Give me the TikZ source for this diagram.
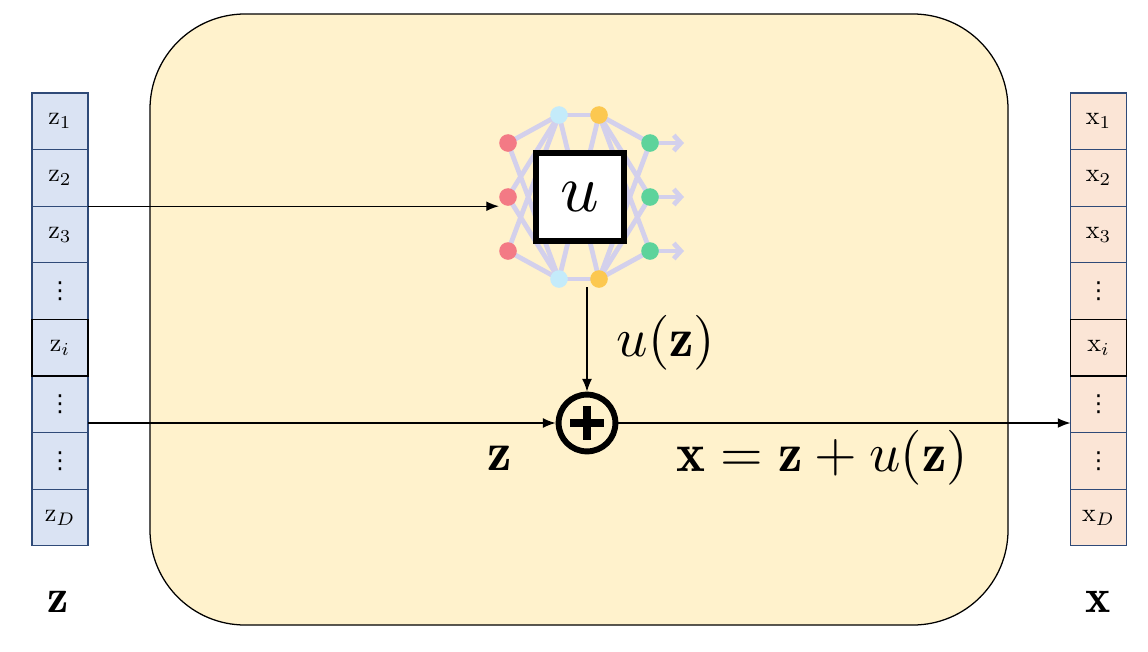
\documentclass[tikz,border=0pt]{standalone}
\usepackage{graphicx}
\usepackage{fontspec}
\newfontfamily\symbolfont{DejaVu Sans}
\usetikzlibrary{calc}
\usetikzlibrary{positioning}
\usetikzlibrary{arrows.meta}

\definecolor{zfill}{HTML}{DAE3F3}
\definecolor{xfill}{HTML}{FBE5D6}
\definecolor{cellblue}{HTML}{2F4A78}
\definecolor{flowfill}{HTML}{FFF2CC}
\definecolor{netline}{HTML}{D3D0EC}
\definecolor{nred}{HTML}{F37A85}
\definecolor{nblue}{HTML}{C4EBFA}
\definecolor{norange}{HTML}{FCC850}
\definecolor{ngreen}{HTML}{5DD39B}

\newcommand{\celldots}{\hbox{\symbolfont\fontsize{9}{10}\selectfont ⋮}}

\begin{document}
\begin{tikzpicture}[x=0.025cm,y=-0.025cm,
    cell/.style={draw=cellblue, line width=0.8pt, minimum width=1.4cm, minimum height=1.415cm,
      inner sep=0pt, outer sep=0pt},
    neuron/.style={circle, minimum size=0.44cm, inner sep=0pt},
    link/.style={draw=netline, line width=3.4pt},
    conn/.style={line width=1pt, -{Latex[length=9pt,width=7pt]}},
    bigmath/.style={scale=3.9, inner sep=0pt}]
  \useasboundingbox (0,0) rectangle (1148,651);

  % flow block
  \draw[fill=flowfill, line width=0.9pt, rounded corners=2.375cm] (150,14) rectangle (1008,625);

  % input and output vectors
  \foreach \lbl [count=\k] in {\mathrm{z}_1,\mathrm{z}_2,\mathrm{z}_3,\celldots,\mathrm{z}_i,\celldots,\celldots,\mathrm{z}_D}
    \node[cell, fill=zfill] (z\k) at (60,64.7+56.6*\k) {\scalebox{1.85}{$\lbl$}};
  \foreach \lbl [count=\k] in {\mathrm{x}_1,\mathrm{x}_2,\mathrm{x}_3,\celldots,\mathrm{x}_i,\celldots,\celldots,\mathrm{x}_D}
    \node[cell, fill=xfill] (x\k) at (1098.5,64.7+56.6*\k) {\scalebox{1.85}{$\lbl$}};
  \draw[line width=0.8pt] (z5.south west) rectangle (z5.north east);
  \draw[line width=0.8pt] (x5.south west) rectangle (x5.north east);

  \node[bigmath, scale=0.87] (zname) at (58,602) {$\mathbf{z}$};
  \node[bigmath, scale=0.87] (xname) at (1098,602) {$\mathbf{x}$};

  % network u
  \foreach \k/\y in {1/143,2/197,3/251} {
    \coordinate (in\k) at (508,\y);
    \coordinate (out\k) at (650,\y);
  }
  \foreach \k/\y in {1/115,2/279} {
    \coordinate (ha\k) at (559,\y);
    \coordinate (hb\k) at (599,\y);
  }
  \foreach \i in {1,2,3}
    \foreach \j in {1,2} {
      \draw[link] (in\i) -- (ha\j);
      \draw[link] (hb\j) -- (out\i);
    }
  \foreach \i in {1,2}
    \foreach \j in {1,2}
      \draw[link] (ha\i) -- (hb\j);
  \foreach \k in {1,2,3}
    \draw[link, -{Straight Barb[length=5pt,width=11pt]}] (out\k) -- ++(34,0);
  \foreach \k in {1,2,3} {
    \node[neuron, fill=nred] (r\k) at (in\k) {};
    \node[neuron, fill=ngreen] (g\k) at (out\k) {};
  }
  \foreach \k in {1,2} {
    \node[neuron, fill=nblue] (b\k) at (ha\k) {};
    \node[neuron, fill=norange] (o\k) at (hb\k) {};
  }
  \node[draw, fill=white, line width=3.8pt, minimum size=2.2cm, inner sep=0pt] (u) at (580,197)
    {\scalebox{4.8}{$u$}};

  % sum
  \node[circle, draw, line width=4.2pt, minimum size=1.42cm, inner sep=0pt] (plus) at (587,423) {};
  \draw[line width=5.5pt] ($(plus)+(-17,0)$) -- ($(plus)+(17,0)$);
  \draw[line width=5.5pt] ($(plus)+(0,-17)$) -- ($(plus)+(0,17)$);

  \coordinate (uout) at (587,287);
  \draw[conn] (z2.south east) -- (z2.south east -| r2.west);
  \draw[conn] (uout) -- (plus.north);
  \draw[conn] (plus -| z6.east) -- (plus.west);
  \draw[conn] (plus.east) -- (plus -| x6.west);

  \node[bigmath] (ulab) at (666,343) {$u(\mathbf{z})$};
  \node[bigmath] (zlab) at (500,458) {$\mathbf{z}$};
  \node[bigmath] (xlab) at (822,458) {$\mathbf{x}=\mathbf{z}+u(\mathbf{z})$};
\end{tikzpicture}
\end{document}
